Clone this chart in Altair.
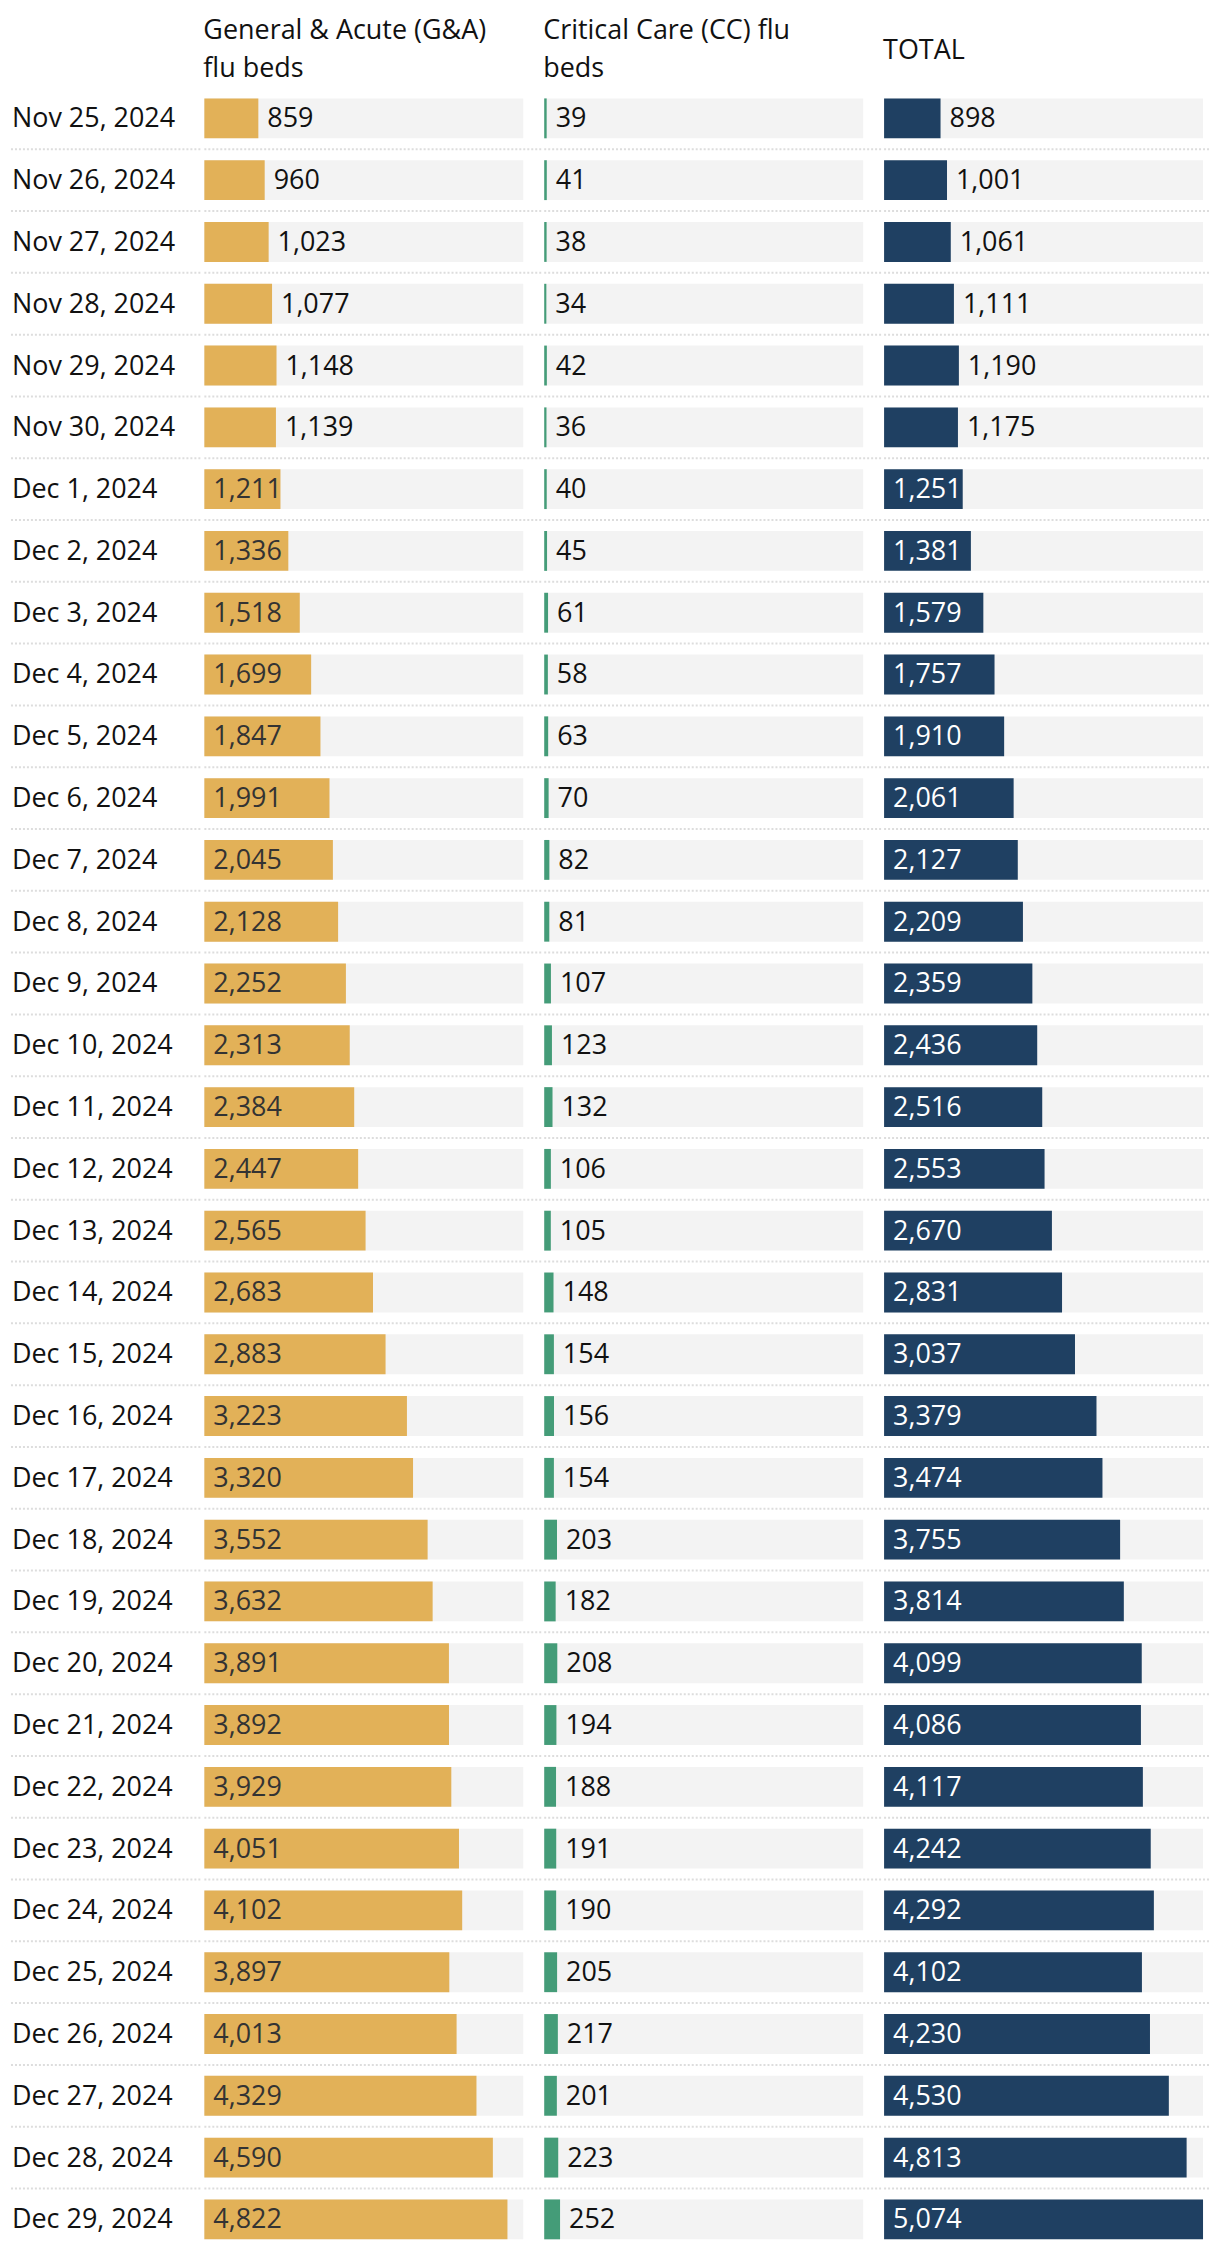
import altair as alt
import pandas as pd

dates = ["Nov 25, 2024", "Nov 26, 2024", "Nov 27, 2024", "Nov 28, 2024", "Nov 29, 2024",
         "Nov 30, 2024", "Dec 1, 2024", "Dec 2, 2024", "Dec 3, 2024", "Dec 4, 2024",
         "Dec 5, 2024", "Dec 6, 2024", "Dec 7, 2024", "Dec 8, 2024", "Dec 9, 2024",
         "Dec 10, 2024", "Dec 11, 2024", "Dec 12, 2024", "Dec 13, 2024", "Dec 14, 2024",
         "Dec 15, 2024", "Dec 16, 2024", "Dec 17, 2024", "Dec 18, 2024", "Dec 19, 2024",
         "Dec 20, 2024", "Dec 21, 2024", "Dec 22, 2024", "Dec 23, 2024", "Dec 24, 2024",
         "Dec 25, 2024", "Dec 26, 2024", "Dec 27, 2024", "Dec 28, 2024", "Dec 29, 2024"]

ga = [859, 960, 1023, 1077, 1148, 1139, 1211, 1336, 1518, 1699, 1847, 1991, 2045, 2128,
      2252, 2313, 2384, 2447, 2565, 2683, 2883, 3223, 3320, 3552, 3632, 3891, 3892, 3929,
      4051, 4102, 3897, 4013, 4329, 4590, 4822]

cc = [39, 41, 38, 34, 42, 36, 40, 45, 61, 58, 63, 70, 82, 81, 107, 123, 132, 106, 105,
      148, 154, 156, 154, 203, 182, 208, 194, 188, 191, 190, 205, 217, 201, 223, 252]

total = [898, 1001, 1061, 1111, 1190, 1175, 1251, 1381, 1579, 1757, 1910, 2061, 2127, 2209,
         2359, 2436, 2516, 2553, 2670, 2831, 3037, 3379, 3474, 3755, 3814, 4099, 4086, 4117,
         4242, 4292, 4102, 4230, 4530, 4813, 5074]

headers = {
    "ga": ["General & Acute (G&A)", "flu beds"],
    "cc": ["Critical Care (CC) flu", "beds"],
    "total": ["TOTAL"],
}

FONT = "Open Sans"
FS = 27
ROW = 62
BAR_H = 40
N = len(dates)
H = ROW * N
MAXV = max(total)

df = pd.DataFrame({"date": dates, "ga": ga, "cc": cc, "total": total})
df["bgmax"] = MAXV

yscale = alt.Scale(domain=dates, paddingInner=0, paddingOuter=0)
xscale = alt.Scale(domain=[0, MAXV], range=[0, 320])


def separators(base):
    return base.transform_filter(
        alt.datum.date != dates[-1]
    ).mark_rule(yOffset=ROW / 2, strokeDash=[2, 2], strokeWidth=2, color="#DDDDDD").encode(
        x=alt.value(0), x2=alt.value("width")
    )


def panel(field, color, inside_color, title_lines, title_offset, width):
    base = alt.Chart(df).encode(y=alt.Y("date:N", sort=dates, axis=None, scale=yscale))
    bg = base.mark_bar(height=BAR_H, color="#F3F3F3").encode(
        x=alt.X("bgmax:Q", scale=xscale, axis=None)
    )
    bar = base.mark_bar(height=BAR_H, color=color).encode(
        x=alt.X(f"{field}:Q", scale=xscale, axis=None)
    )
    label = base.transform_calculate(
        inside=f"datum.{field} >= 1200",
        lx=f"datum.{field} >= 1200 ? 0 : datum.{field}",
    ).mark_text(align="left", baseline="middle", dx=9, dy=1, font=FONT, fontSize=FS).encode(
        x=alt.X("lx:Q", scale=xscale, axis=None),
        text=alt.Text(f"{field}:Q", format=","),
        color=alt.condition("datum.inside", alt.value(inside_color), alt.value("#111111")),
    )
    return alt.layer(bg, bar, label, separators(base)).properties(
        width=width,
        height=H,
        title=alt.TitleParams(
            text=title_lines, anchor="start", baseline="alphabetic", offset=title_offset,
            lineHeight=39, font=FONT, fontSize=FS, fontWeight="normal", color="#111111",
        ),
    )


lab_base = alt.Chart(df).encode(y=alt.Y("date:N", sort=dates, axis=None, scale=yscale))
labels = alt.layer(
    lab_base.mark_text(align="left", baseline="middle", dy=1, font=FONT, fontSize=FS,
                       color="#111111").encode(x=alt.value(1), text="date:N"),
    separators(lab_base),
).properties(width=192, height=H)

p_ga = panel("ga", "#E2B158", "#333333", headers["ga"], -17, 339)
p_cc = panel("cc", "#449C78", "#333333", headers["cc"], -17, 339)
p_tot = panel("total", "#1F4062", "#FFFFFF", headers["total"], 2, 328)

chart = alt.hconcat(labels, p_ga, p_cc, p_tot, spacing=0).properties(
    padding={"left": 2, "top": 5, "right": 0, "bottom": 0}
).configure_view(stroke=None).configure_concat(spacing=0)

chart.save("out.html", embed_options={"renderer": "svg", "actions": False})
